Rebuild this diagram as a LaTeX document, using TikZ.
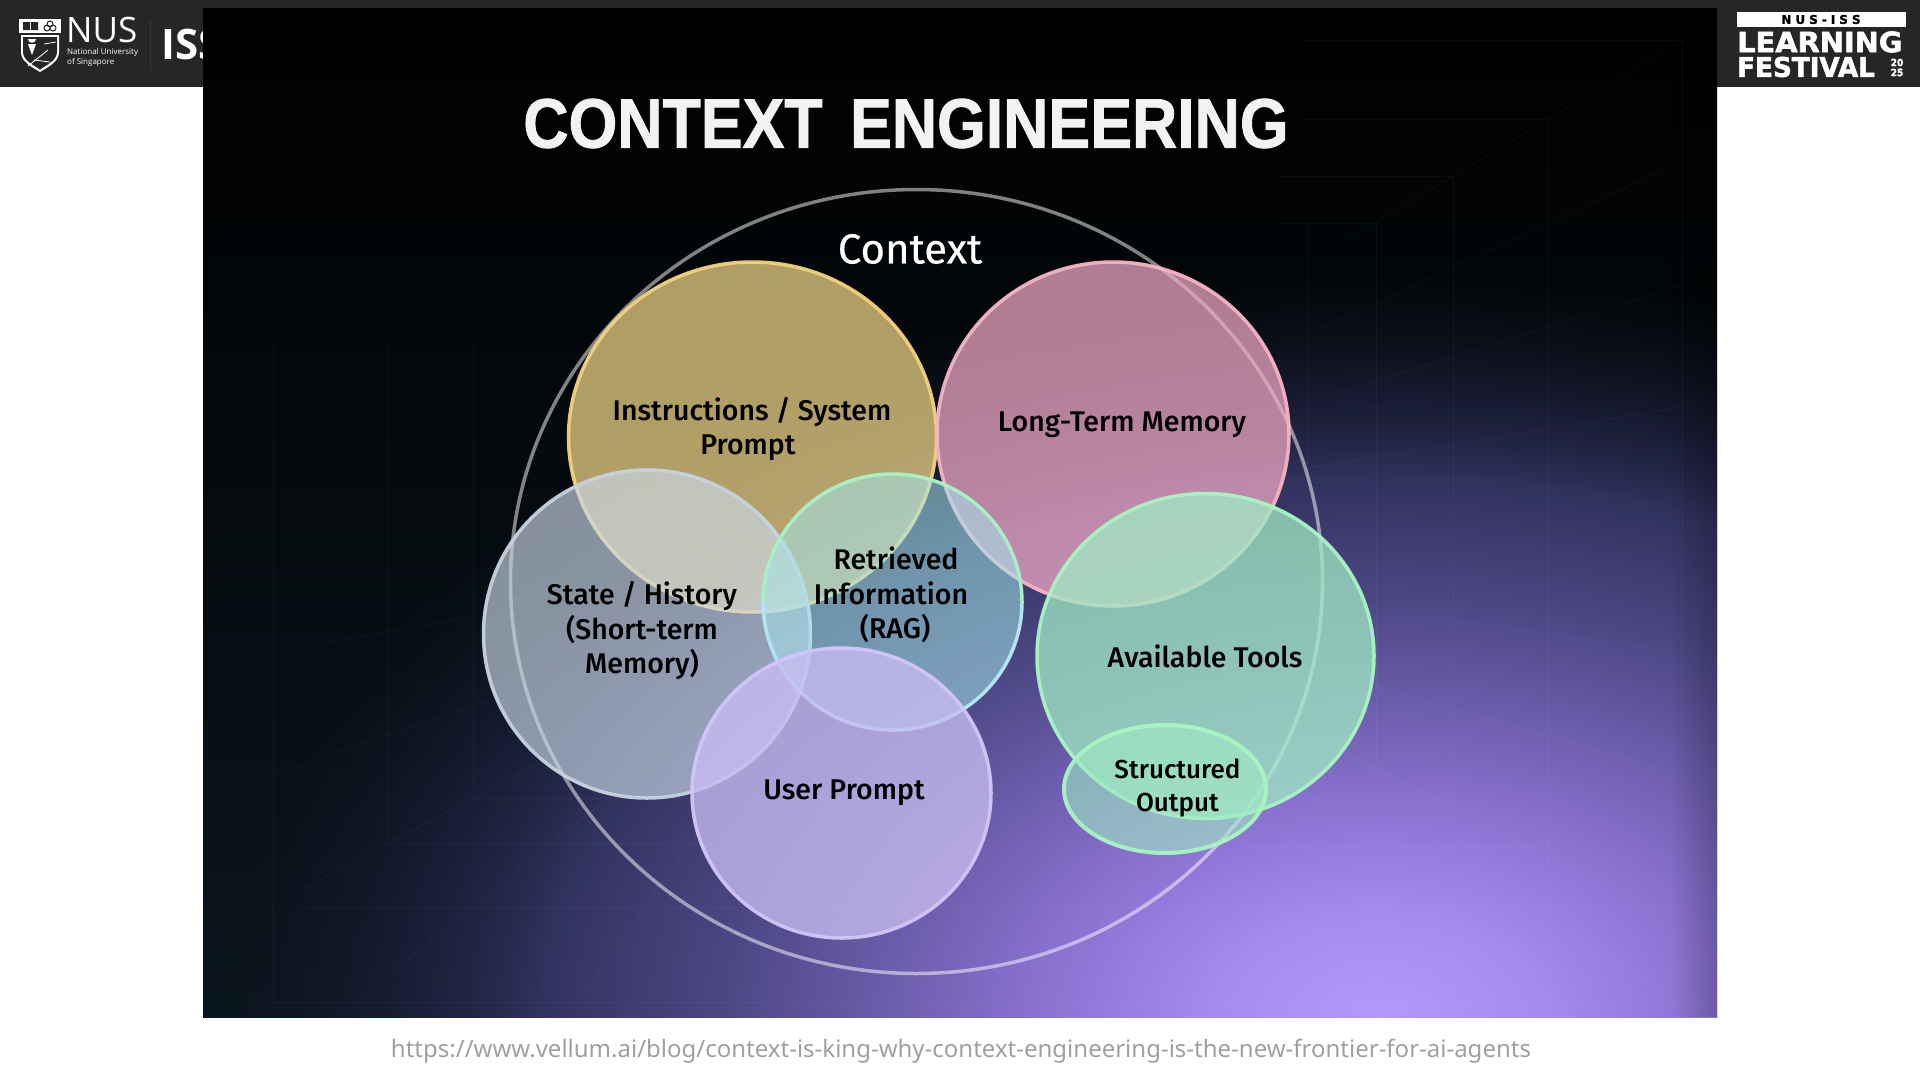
\documentclass[tikz,border=0pt]{standalone}
\usepackage{fontspec}
\usetikzlibrary{positioning,shapes.geometric,fadings}
\setmainfont[FakeBold=0.4]{Fira Sans}
\newfontfamily\titlefont[FakeStretch=0.895,FakeBold=1.2]{Liberation Sans}
\newfontfamily\urlfont{Noto Sans}
\newfontfamily\logofont{Open Sans}
\newfontfamily\heavyfont[FakeBold=2]{DejaVu Sans}
\newfontfamily\labelfont{Fira Sans Medium}

\definecolor{barcol}{HTML}{262626}
\definecolor{basecol}{HTML}{0A161E}
\definecolor{instredge}{HTML}{F3D27C}
\definecolor{instrfill}{HTML}{EBD183}
\definecolor{longedge}{HTML}{F6B4C4}
\definecolor{longfill}{HTML}{F5ABC8}
\definecolor{stateedge}{HTML}{C6D4E0}
\definecolor{statefill}{HTML}{CBD9E8}
\definecolor{retredge}{HTML}{A8F0C4}
\definecolor{retrlow}{HTML}{B2E4F4}
\definecolor{retrfill}{HTML}{A4E6EC}
\definecolor{useredge}{HTML}{D2C6F8}
\definecolor{userfill}{HTML}{C8BCF2}
\definecolor{tooledge}{HTML}{A8F5C2}
\definecolor{toolfill}{HTML}{A0EBC4}
\definecolor{urlcol}{HTML}{A0A0A0}
\definecolor{glowa}{HTML}{B498FB}
\definecolor{glowb}{HTML}{A68AEE}
\definecolor{glowc}{HTML}{8870CE}
\definecolor{glowd}{HTML}{4C4784}
\definecolor{glowe}{HTML}{2A2C54}
\definecolor{glowf}{HTML}{101626}

\pgfdeclareradialshading{glowshade}{\pgfpoint{0bp}{0bp}}{%
  color(0bp)=(glowa);
  color(3.5bp)=(glowb);
  color(7.5bp)=(glowc);
  color(14bp)=(glowd);
  color(19bp)=(glowe);
  color(25bp)=(glowf);
  color(50bp)=(glowf)}
\pgfdeclareradialshading{glowmask}{\pgfpoint{0bp}{0bp}}{%
  color(0bp)=(white); color(18bp)=(white); color(25bp)=(black); color(50bp)=(black)}
\pgfdeclarefading{glowfade}{\pgfuseshading{glowmask}}

\begin{document}
\begin{tikzpicture}[
       x = 1pt, y = -1pt,
     venn/.style = {ellipse, inner sep=0pt, outer sep=0pt, line width=3.5pt, draw opacity=.95},
     tag/.style = {inner sep=0pt, align=center, text=black},
     tagfont/.style = {font=\labelfont\fontsize{28.5}{34.5}\selectfont},
     gridline/.style = {white, opacity=.04, line width=.8pt},
     logotext/.style = {inner sep=0pt, text=white, anchor=west}
                        ]
\useasboundingbox (0,0) rectangle (1920,1080);
\fill[white] (0,0) rectangle (1920,1080);
\fill[barcol] (0,0) rectangle (1920,87);

% logos in the bar
\fill[white] (19,19) rectangle (61,33);
\fill[white] (21,35) -- (59,35) -- (59,52) .. controls (59,62) and (48,67) .. (40,72)
   .. controls (32,67) and (21,62) .. (21,52) -- cycle;
\fill[barcol] (23,37) -- (57,37) -- (57,52) .. controls (57,60) and (47,65) .. (40,69.5)
   .. controls (33,65) and (23,60) .. (23,52) -- cycle;
\fill[white] (28,39) .. controls (28,44) and (36,44) .. (36,39) -- cycle;
\fill[white] (32,55) -- (28,44) -- (36,44) -- cycle;
\draw[white, line width=.8pt] (28,66) -- (48,50) (44,44) -- (56,42) (34,60) -- (50,62);
\fill[barcol] (23,22) rectangle (30,30) (31,22) rectangle (38,30);
\draw[barcol, line width=1pt] (50,24) circle (3pt) (47,28) circle (3pt) (53,28) circle (3pt);
\node (nus) [logotext, font=\logofont\fontsize{35}{35}\selectfont] at (66,30) {NUS};
\node (nusa) [logotext, font=\logofont\fontsize{8}{8}\selectfont] at (67,52.5) {National University};
\node (nusb) [logotext, font=\logofont\fontsize{8}{8}\selectfont] at (67,62) {of Singapore};
\draw[white, opacity=.08] (150,20) -- (150,70);
\node (iss) [logotext, font=\logofont\bfseries\fontsize{42}{42}\selectfont] at (161,44.5) {ISS};

\fill[white] (1737,12) rectangle (1906,27);
\node (lfa) [inner sep=0pt, font=\heavyfont\bfseries\fontsize{12}{12}\selectfont] at (1821,19.5) {N\,\,U\,\,S\,\,-\,\,I\,\,S\,\,S};
\node (lfb) [inner sep=0pt, text=white, anchor=west, font=\heavyfont\bfseries\fontsize{28}{28}\selectfont, xscale=1.03, transform shape] at (1737,42) {LEARNING};
\node (lfc) [inner sep=0pt, text=white, anchor=west, font=\heavyfont\bfseries\fontsize{27}{27}\selectfont, xscale=.97, transform shape] at (1737,67) {FESTIVAL};
\node (lfd) [inner sep=0pt, text=white, align=center, font=\heavyfont\bfseries\fontsize{10}{10}\selectfont, xscale=.9, transform shape] at (1897,67.5) {20\\25};

% panel and its glow
\shade[top color=black, bottom color=basecol] (203,8) rectangle (1717,1017);
\begin{scope}
\clip (203,8) rectangle (1717,1017);
\shade[shading=glowshade, path fading=glowfade] (1384,1017) ellipse (1170 and 750);
\draw[gridline] (1682,40) -- (1682,1017) (1547,119) -- (1547,1000) (1453,176) -- (1453,1000)
   (1376,223) -- (1376,800) (1307,224) -- (1307,480);
\draw[gridline] (1300,40) -- (1682,40) (1300,119) -- (1547,119) (1280,176) -- (1453,176)
   (1280,223) -- (1376,223);
\draw[gridline] (1682,40) -- (1345,240) (1663,170) -- (1323,328) (1682,285) -- (1340,392)
   (1680,407) -- (1310,468);
\draw[gridline] (1375,687) -- (1683,775) (1433,617) -- (1683,653) (1343,752) -- (1683,925)
   (1300,790) -- (1680,1000);
\draw[gridline] (1300,800) -- (1455,800) (1240,845) -- (1550,845) (300,907) -- (1717,907)
   (273,1002) -- (1717,1002);
\draw[gridline] (273,340) -- (273,1010) (387,340) -- (387,843) (473,340) -- (473,798)
   (473,798) -- (700,798) (387,843) -- (700,843);
\draw[gridline] (273,775) -- (488,700) (305,888) -- (538,763) (392,973) -- (605,800)
   (578,1000) -- (698,833) (322,643) -- (472,617);
\end{scope}
\fill[black, opacity=.2, path fading=west] (1670,8) rectangle (1717,1017);

\node (title) [inner sep=0pt, text=white!95!black, font=\titlefont\bfseries\fontsize{70}{70}\selectfont] at (906,123.5) {CONTEXT\hspace{10pt} ENGINEERING};

% the venn circles
\node (context) [venn, draw=white, draw opacity=.5, minimum width=812pt, minimum height=784pt] at (916.5,581.5) {};
\node (contextlab) [inner sep=0pt, text=white, font=\fontsize{42}{42}\selectfont] at (910,249) {Context};

\node (instr) [venn, draw=instredge, fill=instrfill, fill opacity=.75, minimum width=368pt, minimum height=350pt] at (752.5,437) {};
\node (long)  [venn, draw=longedge, fill=longfill, fill opacity=.72, minimum width=352pt, minimum height=344pt] at (1113,434) {};
\node (state) [venn, draw=stateedge, fill=statefill, fill opacity=.65, minimum width=327pt, minimum height=328pt] at (647,634) {};
\node (retr)  [venn, fill=retrfill, fill opacity=.55, minimum width=259pt, minimum height=256pt] at (892.5,602) {};
\draw[retredge, line width=3.5pt] (retr.west) arc[start angle=180, end angle=360, x radius=129.5, y radius=128];
\draw[retrlow, line width=3.5pt] (retr.west) arc[start angle=180, end angle=0, x radius=129.5, y radius=128];
\node (user)  [venn, draw=useredge, fill=userfill, fill opacity=.78, minimum width=299pt, minimum height=290pt] at (841.5,793) {};
\node (tools) [venn, draw=tooledge, fill=toolfill, fill opacity=.75, minimum width=337pt, minimum height=325pt] at (1205.5,656) {};
\node (output) [venn, draw=tooledge, fill=toolfill, fill opacity=.6, line width=4pt, minimum width=202pt, minimum height=128pt] at (1165,789) {};

\node (instrlab) [tag, tagfont] at (752,429) {Instructions / System\\\hspace*{-8pt}Prompt};
\node (longlab)  [tag, tagfont] at (1122,425) {Long-Term Memory};
\node (statelab) [tag, tagfont] at (642,631) {State / History\\(Short-term\hspace*{36pt}\\Memory)};
\node (retrlab)  [tag, tagfont] at (891,595) {\hspace*{10pt}Retrieved\\Information\\\hspace*{8pt}(RAG)};
\node (userlab)  [tag, tagfont] at (844,793) {User Prompt};
\node (toolslab) [tag, tagfont] at (1205,656) {Available Tools};
\node (outputlab) [tag, font=\labelfont\fontsize{26}{33}\selectfont] at (1177.5,788) {Structured\\Output};

\node (url) [inner sep=0pt, text=urlcol, font=\urlfont\fontsize{24}{26}\selectfont] at (961,1051) {https://www.vellum.ai/blog/context-is-king-why-context-engineering-is-the-new-frontier-for-ai-agents};
\end{tikzpicture}
\end{document}
